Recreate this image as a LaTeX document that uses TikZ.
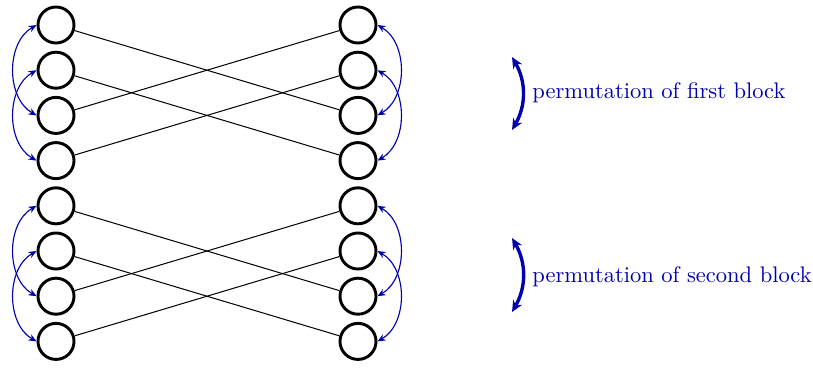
\documentclass[tikz,border=0pt]{standalone}
\usetikzlibrary{arrows.meta}
\definecolor{permblue}{rgb}{0,0,0.68}
\begin{document}
\begin{tikzpicture}[x=0.444pt,y=-0.444pt,
  neuron/.style={circle,draw=black,line width=1.3pt,minimum size=16pt,inner sep=0pt},
  wire/.style={draw=black,line width=0.45pt},
  swap/.style={draw=permblue,line width=0.5pt,{Stealth[length=3.6pt,width=3pt]}-{Stealth[length=3.6pt,width=3pt]}},
  bigswap/.style={draw=permblue,line width=1.5pt,{Stealth[length=5pt,width=4.5pt]}-{Stealth[length=5pt,width=4.5pt]}},
  label/.style={text=permblue,anchor=base west,inner sep=0pt}]
\useasboundingbox (0,0) rectangle (813,367);
\foreach \i in {1,...,8}{
  \pgfmathsetmacro{\yy}{25+45.2*(\i-1)}
  \node[neuron] (l\i) at (56,\yy) {};
  \node[neuron] (r\i) at (358,\yy) {};
}
% connections
\draw[wire] (l1) -- (r3);
\draw[wire] (l2) -- (r4);
\draw[wire] (l3) -- (r1);
\draw[wire] (l4) -- (r2);
\draw[wire] (l5) -- (r7);
\draw[wire] (l6) -- (r8);
\draw[wire] (l7) -- (r5);
\draw[wire] (l8) -- (r6);
% left swaps
\draw[swap] (l1.west) to[bend right=60] (l3.west);
\draw[swap] (l2.west) to[bend right=60] (l4.west);
\draw[swap] (l5.west) to[bend right=60] (l7.west);
\draw[swap] (l6.west) to[bend right=60] (l8.west);
% right swaps
\draw[swap] (r1.east) to[bend left=60] (r3.east);
\draw[swap] (r2.east) to[bend left=60] (r4.east);
\draw[swap] (r5.east) to[bend left=60] (r7.east);
\draw[swap] (r6.east) to[bend left=60] (r8.east);
% block annotations
\coordinate (p1t) at (512,57);
\coordinate (p1b) at (512,130);
\coordinate (p2t) at (512,238);
\coordinate (p2b) at (512,312);
\draw[bigswap] (p1t) to[bend left=30] (p1b);
\draw[bigswap] (p2t) to[bend left=30] (p2b);
\node[label] (t1) at (532,98) {permutation of first block};
\node[label] (t2) at (532,282) {permutation of second block};
\end{tikzpicture}
\end{document}
